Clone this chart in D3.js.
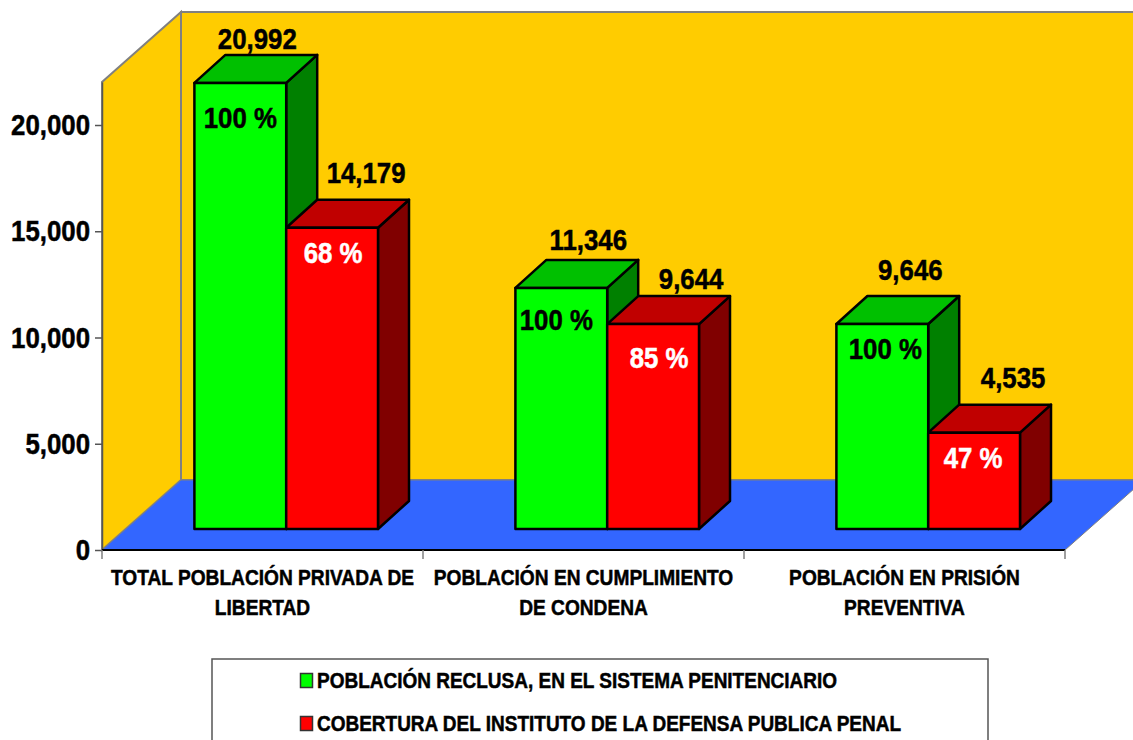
<!DOCTYPE html>
<html>
<head>
<meta charset="utf-8">
<script src="https://cdn.jsdelivr.net/npm/d3@7"></script>
<style>
  html, body { margin: 0; background: #fff; }
  svg { display: block; }
  text { font-family: "Liberation Sans", Arial, sans-serif; font-weight: bold; fill: #000; stroke: #000; stroke-width: 0.5; }
</style>
</head>
<body>
<div id="chart"></div>
<script>
const categories = [
  ['TOTAL POBLACIÓN PRIVADA DE', 'LIBERTAD'],
  ['POBLACIÓN EN CUMPLIMIENTO', 'DE CONDENA'],
  ['POBLACIÓN EN PRISIÓN', 'PREVENTIVA']
];
const seriesNames = [
  'POBLACIÓN RECLUSA, EN EL SISTEMA PENITENCIARIO',
  'COBERTURA DEL INSTITUTO DE LA DEFENSA PUBLICA PENAL'
];
const reclusa = [20992, 11346, 9646];
const cobertura = [14179, 9644, 4535];
const reclusaPct = [100, 100, 100];
const coberturaPct = [68, 85, 47];
const yTicks = [0, 5000, 10000, 15000, 20000];

// hand placed labels in the original, offsets from bar centre / bar top
const valueNudge = [[[17, -34], [27, -38], [28, -44]], [[34, -45], [38, -35], [39, -45]]];
const pctNudge = [[[0, 45], [-5, 42], [3, 35]], [[1, 35], [6, 44], [-1, 35]]];

const width = 1133;
const height = 740;
const x0 = 102, x1 = 1065, floorY = 550, topY = 82;
const depthX = 79, depthY = 70;
const barDepthX = 31, barDepthY = 28, barInsetY = 21, barInsetX = 23.7, barWidth = 91.8;

const svg = d3.select('#chart').append('svg')
  .attr('width', width)
  .attr('height', height);

const y = d3.scaleLinear().domain([0, 22024]).range([floorY, topY]);
const x = d3.scaleBand().domain(d3.range(categories.length)).range([x0, x1]);

// squeeze text horizontally, the source font is a condensed Arial
const squeeze = (sel, k) => sel.each(function () {
  d3.select(this)
    .attr('textLength', this.getComputedTextLength() * k)
    .attr('lengthAdjust', 'spacingAndGlyphs');
});
const pts = a => a.map(p => p.join(',')).join(' ');

// walls and floor
svg.append('polygon')
  .attr('points', pts([[x0, topY], [x0 + depthX, topY - depthY], [x0 + depthX, floorY - depthY], [x0, floorY]]))
  .attr('fill', '#FFCC00').attr('stroke', '#808080').attr('stroke-width', 2);
svg.append('polygon')
  .attr('points', pts([[x0 + depthX, topY - depthY], [x1 + depthX, topY - depthY], [x1 + depthX, floorY - depthY], [x0 + depthX, floorY - depthY]]))
  .attr('fill', '#FFCC00').attr('stroke', '#808080').attr('stroke-width', 2);
svg.append('polygon')
  .attr('points', pts([[x0, floorY], [x0 + depthX, floorY - depthY], [x1 + depthX, floorY - depthY], [x1, floorY]]))
  .attr('fill', '#3366FF').attr('stroke', '#808080').attr('stroke-width', 1);

// axes
const yAxis = svg.append('g')
  .attr('transform', `translate(${x0},0)`)
  .call(d3.axisLeft(y).tickValues(yTicks).tickSize(7).tickSizeOuter(0).tickPadding(5).tickFormat(d3.format(',')));
yAxis.select('.domain').attr('stroke', '#555').attr('stroke-width', 1.5);
yAxis.selectAll('.tick line').attr('stroke', '#555').attr('stroke-width', 1.5);
yAxis.selectAll('text').attr('font-size', 30).attr('fill', '#000').call(squeeze, 0.86);

svg.append('line')
  .attr('x1', x0).attr('x2', x1).attr('y1', floorY).attr('y2', floorY)
  .attr('stroke', '#000').attr('stroke-width', 2);
svg.selectAll('.xtick')
  .data(d3.range(categories.length + 1))
  .enter().append('line')
  .attr('class', 'xtick')
  .attr('x1', i => x0 + i * x.step()).attr('x2', i => x0 + i * x.step())
  .attr('y1', floorY).attr('y2', floorY + 9)
  .attr('stroke', '#808080').attr('stroke-width', 1.5);

// category labels
categories.forEach((lines, i) => {
  lines.forEach((line, j) => {
    svg.append('text')
      .attr('x', x(i) + x.bandwidth() / 2)
      .attr('y', 585 + j * 30)
      .attr('text-anchor', 'middle')
      .attr('font-size', 22)
      .text(line)
      .call(squeeze, 0.87);
  });
});

// bars
const seriesList = [
  { values: reclusa, pct: reclusaPct, front: '#00FF00', top: '#00C000', side: '#008000', pctFill: '#000' },
  { values: cobertura, pct: coberturaPct, front: '#FF0000', top: '#C00000', side: '#800000', pctFill: '#fff' }
];

seriesList.forEach((s, si) => {
  const g = svg.append('g');
  const rows = s.values.map((v, i) => {
    const left = x(i) + x.bandwidth() / 2 + barInsetX - barWidth + si * barWidth;
    return { left, right: left + barWidth, top: y(v) - barInsetY, bottom: floorY - barInsetY };
  });
  const face = (fill, fn) => g.selectAll(null).data(rows).enter().append('polygon')
    .attr('points', d => pts(fn(d)))
    .attr('fill', fill).attr('stroke', '#000').attr('stroke-width', 2.5)
    .attr('stroke-linejoin', 'round');

  face(s.side, d => [[d.right, d.top], [d.right + barDepthX, d.top - barDepthY], [d.right + barDepthX, d.bottom - barDepthY], [d.right, d.bottom]]);
  face(s.top, d => [[d.left, d.top], [d.left + barDepthX, d.top - barDepthY], [d.right + barDepthX, d.top - barDepthY], [d.right, d.top]]);
  face(s.front, d => [[d.left, d.top], [d.right, d.top], [d.right, d.bottom], [d.left, d.bottom]]);
});

// labels go on top of every bar
seriesList.forEach((s, si) => {
  s.values.forEach((v, i) => {
    const cx = x(i) + x.bandwidth() / 2 + barInsetX - barWidth / 2 + si * barWidth;
    const barTop = y(v) - barInsetY;
    svg.append('text')
      .attr('x', cx + valueNudge[si][i][0])
      .attr('y', barTop + valueNudge[si][i][1])
      .attr('text-anchor', 'middle')
      .attr('font-size', 30)
      .text(d3.format(',')(v))
      .call(squeeze, 0.86);
    svg.append('text')
      .attr('x', cx + pctNudge[si][i][0])
      .attr('y', barTop + pctNudge[si][i][1])
      .attr('text-anchor', 'middle')
      .attr('font-size', 30)
      .style('fill', s.pctFill)
      .style('stroke', s.pctFill)
      .text(`${s.pct[i]} %`)
      .call(squeeze, 0.86);
  });
});

// legend
svg.append('rect')
  .attr('x', 212).attr('y', 659)
  .attr('width', 776).attr('height', 100)
  .attr('fill', '#fff').attr('stroke', '#555').attr('stroke-width', 1.5);
seriesNames.forEach((name, i) => {
  svg.append('rect')
    .attr('x', 300.5).attr('y', 673.5 + i * 43)
    .attr('width', 12).attr('height', 14)
    .attr('fill', seriesList[i].front).attr('stroke', '#333').attr('stroke-width', 1.5);
  svg.append('text')
    .attr('x', 317).attr('y', 688 + i * 43)
    .attr('font-size', 22)
    .text(name)
    .call(squeeze, 0.863);
});
</script>
</body>
</html>
